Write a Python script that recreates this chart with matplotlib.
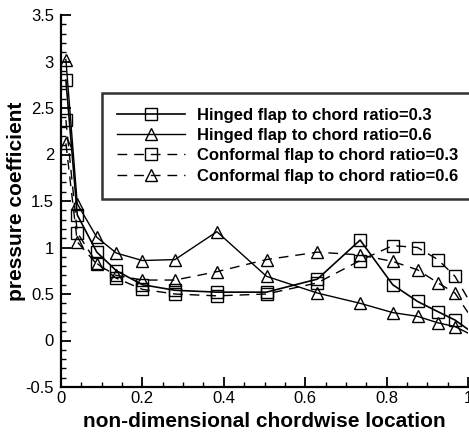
import numpy as np
import matplotlib
matplotlib.use('Agg')
import matplotlib.pyplot as plt
from matplotlib.ticker import MultipleLocator

plt.rcParams['font.family'] = ['Liberation Sans', 'DejaVu Sans']

# chordwise stations (shared by all four cases)
x_loc = [0.012, 0.04, 0.088, 0.136, 0.2, 0.28, 0.383, 0.505, 0.63, 0.735,
         0.815, 0.876, 0.926, 0.968, 1.0]

# pressure coefficient for each case
hinged_03 = [2.80, 1.35, 0.95, 0.75, 0.60, 0.54, 0.52, 0.52, 0.66, 1.08,
             0.60, 0.42, 0.31, 0.22, 0.12]
hinged_06 = [3.02, 1.47, 1.11, 0.94, 0.86, 0.87, 1.17, 0.69, 0.51, 0.40,
             0.30, 0.26, 0.19, 0.15, 0.08]
conformal_03 = [2.37, 1.16, 0.83, 0.67, 0.55, 0.50, 0.48, 0.50, 0.62, 0.86,
                1.02, 1.00, 0.87, 0.69, 0.45]
conformal_06 = [2.12, 1.06, 0.82, 0.70, 0.65, 0.65, 0.74, 0.87, 0.95, 0.92,
                0.85, 0.76, 0.62, 0.51, 0.30]

labels = ['Hinged flap to chord ratio=0.3',
          'Hinged flap to chord ratio=0.6',
          'Conformal flap to chord ratio=0.3',
          'Conformal flap to chord ratio=0.6']

fig = plt.figure(figsize=(4.69, 4.32), dpi=100)
ax = fig.add_axes([61 / 469, 45 / 432, 407 / 469, 372 / 432])

dash = (0, (7, 5))
style = dict(color='black', markerfacecolor='none', markeredgecolor='black',
             markeredgewidth=1.0, markersize=8, markevery=slice(0, -1))
ax.plot(x_loc, hinged_03, '-', marker='s', lw=1.2, label=labels[0], **style)
ax.plot(x_loc, hinged_06, '-', marker='^', lw=1.0, label=labels[1], **style)
ax.plot(x_loc, conformal_03, linestyle=dash, marker='s', lw=1.0, label=labels[2], **style)
ax.plot(x_loc, conformal_06, linestyle=dash, marker='^', lw=1.0, label=labels[3], **style)

ax.set_xlim(0, 1)
ax.set_ylim(-0.5, 3.5)
ax.xaxis.set_minor_locator(MultipleLocator(0.05))
ax.yaxis.set_minor_locator(MultipleLocator(0.1))
ax.set_xticks([0, 0.2, 0.4, 0.6, 0.8, 1.0])
ax.set_xticklabels(['0', '0.2', '0.4', '0.6', '0.8', '1'])
ax.set_yticks([-0.5, 0, 0.5, 1, 1.5, 2, 2.5, 3, 3.5])
ax.set_yticklabels(['-0.5', '0', '0.5', '1', '1.5', '2', '2.5', '3', '3.5'])
ax.tick_params(which='major', direction='in', length=7, width=1.3, labelsize=12, pad=3)
ax.tick_params(which='minor', direction='in', length=3.5, width=1.0)
ax.tick_params(axis='y', which='major', pad=5)

for side in ['top', 'right']:
    ax.spines[side].set_visible(False)
for side in ['left', 'bottom']:
    ax.spines[side].set_linewidth(1.6)

ax.set_xlabel('non-dimensional chordwise location', fontsize=15,
              fontweight='bold', labelpad=4)
ax.set_ylabel('pressure coefficient', fontsize=15, fontweight='bold', labelpad=0)

leg = ax.legend(loc='upper left', bbox_to_anchor=(102 / 469, 1 - 93 / 432),
                bbox_transform=fig.transFigure, borderaxespad=0,
                prop={'weight': 'bold', 'size': 12}, frameon=True,
                fancybox=False, handlelength=4.1, handletextpad=0.7,
                borderpad=0.9, labelspacing=0.31)
leg.get_frame().set_edgecolor('black')
leg.get_frame().set_linewidth(1.8)
for h in leg.get_lines():
    h.set_markevery([1])

fig.savefig('out.png', dpi=100)
